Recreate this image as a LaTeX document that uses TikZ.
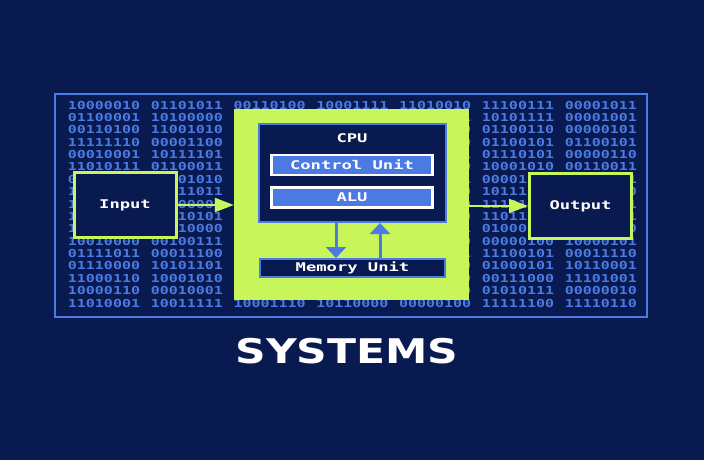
\documentclass[tikz,border=0pt]{standalone}
\usepackage{fontspec}
\usepackage{tikz}
\usetikzlibrary{arrows.meta}
\newfontfamily\bitfont{DejaVu Sans Mono}[FakeStretch=1.36]
\newfontfamily\pixfont{DejaVu Sans Mono}[FakeStretch=1.43]
\newfontfamily\titlefont{DejaVu Sans}[FakeStretch=1.25]
\definecolor{navy}{RGB}{9,26,80}
\definecolor{bitblue}{RGB}{74,122,226}
\definecolor{lime}{RGB}{200,246,90}

\begin{document}
\begin{tikzpicture}[x=1pt,y=-1pt,
  bits/.style={font=\bitfont\bfseries\fontsize{11}{11}\selectfont, text=bitblue, inner sep=0pt},
  pixlabel/.style={font=\pixfont\bfseries\fontsize{12}{12}\selectfont, text=white},
  iobox/.style={pixlabel, draw=lime, line width=3pt, fill=navy, minimum width=102pt, minimum height=65pt},
  unitbox/.style={pixlabel, draw=white, line width=2.5pt, fill=bitblue, minimum width=161pt, minimum height=20pt},
  limearrow/.style={lime, line width=2pt, -{Triangle[length=19pt,width=14pt]}},
  bluearrow/.style={bitblue, line width=3pt, -{Triangle[length=11pt,width=20pt]}}]
\tikzstyle{every node}+=[inner sep=0pt]
\fill [navy] (0,0) rectangle (704,460);
\draw [bitblue, line width=1.2pt] (55,94) rectangle (647,317);
\foreach \row [count=\r] in {
  {10000010,01101011,00110100,10001111,11010010,11100111,00001011},
  {01100001,10100000,01011100,{},00101101,10101111,00001001},
  {00110100,11001010,01110011,{},01001110,01100110,00000101},
  {11111110,00001100,00011011,{},10110100,01100101,01100101},
  {00010001,10111101,01101001,{},11000011,01110101,00000110},
  {11010111,01100011,01010010,{},00111010,10001010,00110011},
  {01001101,00101010,01110110,{},10010001,00001110,10100101},
  {10110010,10011011,00011101,{},01100100,10111001,11001010},
  {11100100,01100001,11010100,{},10001110,11101000,01010111},
  {10101001,11010101,00100110,{},01011000,11011010,10011101},
  {11001110,00110000,10000111,{},11000101,01000111,00111010},
  {10010000,00100111,01011001,{},00110110,00000100,10000101},
  {01111011,00011100,11100001,{},10101001,11100101,00011110},
  {01110000,10101101,00101110,{},01110010,01000101,10110001},
  {11000110,10001010,10010011,{},11100110,00111000,11101001},
  {10000110,00010001,01101100,{},01011010,01010111,00000010},
  {11010001,10011111,10001110,10110000,00000100,11111100,11110110}}
  \foreach \v [count=\c] in \row {
    \pgfmathtruncatemacro\hidden{(\c==4)&&(\r>1)&&(\r<17)}
    \ifnum\hidden=0
      \node [bits] (b\r-\c) at ({104+82.8*(\c-1)},{105+12.375*(\r-1)}) {\v};
    \fi
  }
\node [fill=lime, minimum width=235pt, minimum height=191pt] (frame) at (351.5,204.5) {};
\node [draw=bitblue, line width=2pt, fill=navy, minimum width=187pt, minimum height=98pt] (cpu) at (352.5,173) {};
\node [pixlabel] (cpulabel) at (352,138) {CPU};
\node [unitbox] (control) at (352,165) {Control Unit};
\node [unitbox] (alu) at (352,197.5) {ALU};
\node [pixlabel, draw=bitblue, line width=2pt, fill=navy, minimum width=185pt, minimum height=18pt] (memory) at (352.5,268) {Memory Unit};
\node [iobox] (input) at (125,205) {Input};
\node [iobox] (output) at (580.5,206) {Output};
\draw [limearrow] (input.east) -- (input.east -| frame.west);
\draw [limearrow, line width=1.5pt] (frame.east |- output.west) -- (output.west);
\draw [bluearrow] ([xshift=-16.5pt]cpu.south) -- ([xshift=-16.5pt]memory.north);
\draw [bluearrow] ([xshift=27.5pt]memory.north) -- ([xshift=27.5pt]cpu.south);
\node [font=\titlefont\bfseries\fontsize{34}{34}\selectfont, text=white] (title) at (347,351.5) {SYSTEMS};
\end{tikzpicture}
\end{document}
